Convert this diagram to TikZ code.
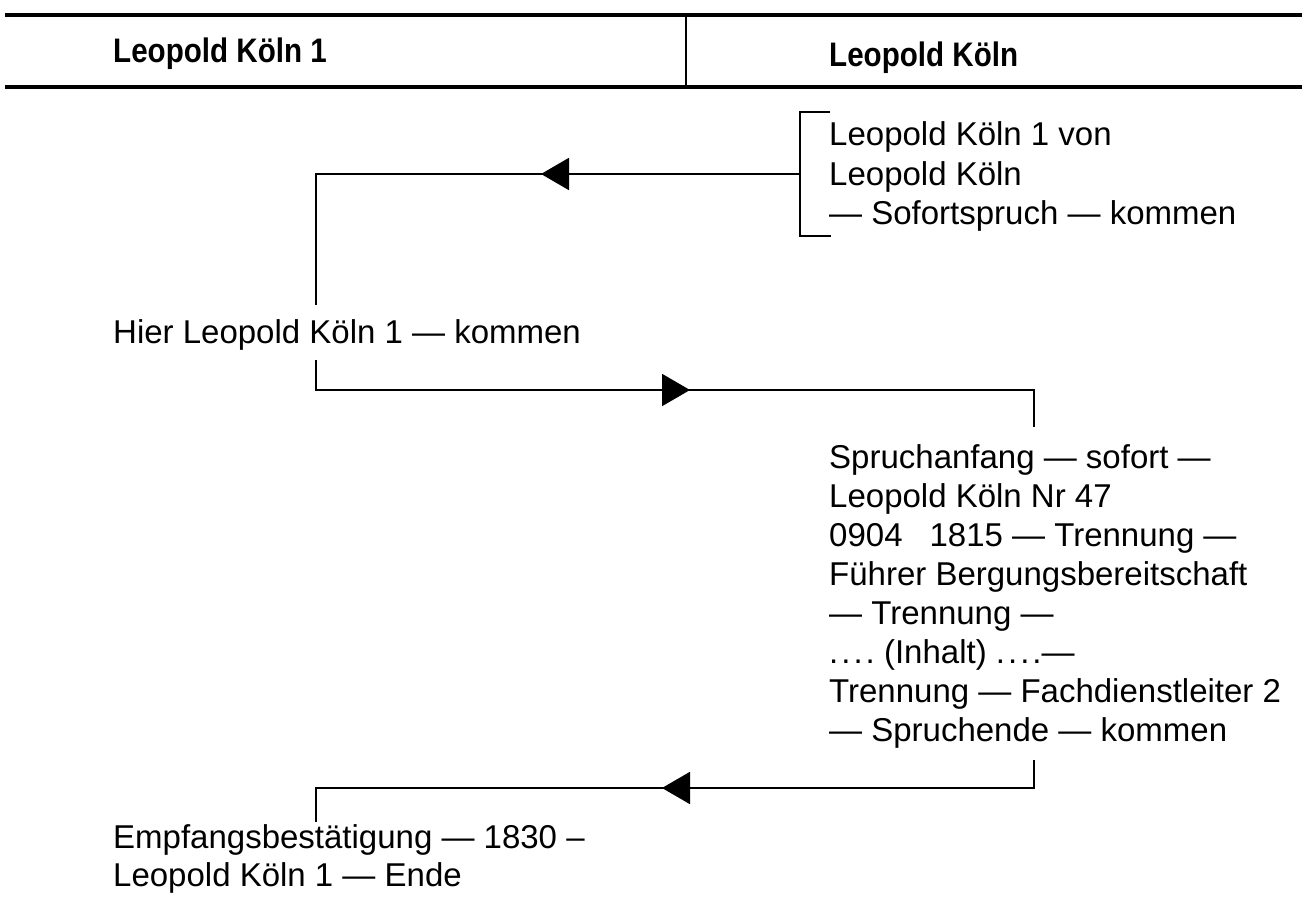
\documentclass[tikz,border=0pt]{standalone}
\usepackage{fontspec}
\setmainfont{Liberation Sans}
\newfontfamily\hdrfont{Liberation Sans}[FakeStretch=0.87]
\usetikzlibrary{arrows.meta,decorations.markings}
\tikzset{
  conn/.style={line width=2pt},
  hline/.style={line width=3.5pt},
  txt/.style={anchor=base west, inner sep=0pt, font=\fontsize{33}{38.5}\selectfont},
  hdr/.style={anchor=base west, inner sep=0pt, font=\hdrfont\bfseries\fontsize{34}{38}\selectfont},
  arr/.style={postaction={decorate}, decoration={markings, mark=at position #1 with {\arrow{Triangle[length=28pt,width=32pt]}}}},
}
\newcommand{\blk}[1]{\begin{tabular}[t]{@{}l@{}}#1\end{tabular}}
\newcommand{\dts}{.\kern3pt.\kern3pt.\kern3pt.}
\begin{document}
\begin{tikzpicture}[x=1pt,y=-1pt]
\useasboundingbox (0,0) rectangle (1307,904);
% header
\draw[hline] (5,15) -- (1302,15);
\draw[hline] (5,87) -- (1302,87);
\draw[conn] (686,15) -- (686,87);
\node[hdr] (h1) at (113,63) {Leopold Köln 1};
\node[hdr] (h2) at (829,67) {Leopold Köln};
% top block
\node[txt, font=\fontsize{33}{39.5}\selectfont] (top) at (829,146) {\blk{Leopold Köln 1 von\\Leopold Köln\\— Sofortspruch — kommen}};
\draw[conn] (830,112) -- (800,112) -- (800,236) -- (831,236);
\coordinate (tb) at (800,174);
\coordinate (c1) at (316,174);
\coordinate (hin) at (316,305);
\draw[conn, arr=259pt] (tb) -- (c1) -- (hin);
% hier
\node[txt] (hier) at (113,343) {Hier Leopold Köln 1 — kommen};
\coordinate (hout) at (316,360);
\coordinate (c2) at (316,390);
\coordinate (c3) at (1034,390);
\coordinate (min) at (1034,427);
\draw[conn, arr=404pt] (hout) -- (c2) -- (c3) -- (min);
% main block
\node[txt, font=\fontsize{33}{39.1}\selectfont] (main) at (829,468) {\blk{Spruchanfang — sofort —\\Leopold Köln Nr 47\\0904\hspace{27pt}1815 — Trennung —\\Führer Bergungsbereitschaft\\— Trennung —\\\dts\ (Inhalt) \dts—\\Trennung — Fachdienstleiter 2\\— Spruchende — kommen}};
\coordinate (mout) at (1034,760);
\coordinate (c4) at (1034,788);
\coordinate (c5) at (316,788);
\coordinate (ein) at (316,822);
\draw[conn, arr=400pt] (mout) -- (c4) -- (c5) -- (ein);
% end block
\node[txt, font=\fontsize{33}{38}\selectfont] (end) at (113,848) {\blk{Empfangsbestätigung — 1830 –\\Leopold Köln 1 — Ende}};
\end{tikzpicture}
\end{document}
